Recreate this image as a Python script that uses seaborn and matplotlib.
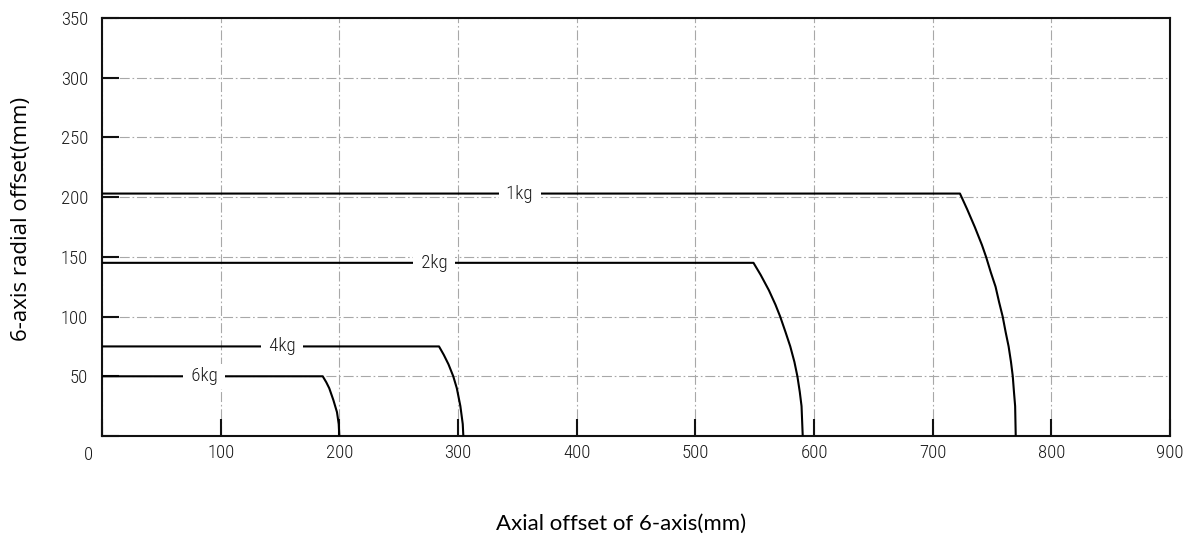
import matplotlib
matplotlib.use("Agg")
import matplotlib.pyplot as plt
from matplotlib.font_manager import FontProperties
import seaborn as sns
import pandas as pd

# payload limit curves (mm)
loads = ["1kg", "2kg", "4kg", "6kg"]
x_1kg = [0, 723, 729, 735.5, 741.5, 745, 749, 753, 756, 759, 761.5, 764, 766, 767.5, 768.5, 769.5, 770]
y_1kg = [203, 203, 190, 175, 160, 150, 137, 125, 112, 100, 87, 75, 62, 50, 37, 25, 0]
x_2kg = [0, 549, 555, 562, 567.5, 571.5, 576, 580, 583.5, 586, 588, 589.5, 590.5]
y_2kg = [145, 145, 135, 122, 110, 100, 87, 75, 62, 50, 37, 25, 0]
x_4kg = [0, 284, 288, 292, 296, 299, 302, 304, 304.5]
y_4kg = [75, 75, 68, 60, 50, 40, 25, 10, 0]
x_6kg = [0, 186, 189, 191.5, 195, 198, 199.5, 200]
y_6kg = [50, 50, 45, 40, 30, 20, 10, 0]

# where the load labels sit on each line
label_x = [352, 280, 152, 86]
label_y = [203, 145, 75, 50]

x_ticks = [0, 100, 200, 300, 400, 500, 600, 700, 800, 900]
y_ticks = [0, 50, 100, 150, 200, 250, 300, 350]
y_tick_labels = ["", "50", "100", "150", "200", "250", "300", "350"]

frames = []
for name, xs, ys in zip(loads, [x_1kg, x_2kg, x_4kg, x_6kg],
                        [y_1kg, y_2kg, y_4kg, y_6kg]):
    frames.append(pd.DataFrame({"x": xs, "y": ys, "load": name}))
df = pd.concat(frames, ignore_index=True)

sns.set_style("ticks")
plt.rcParams["font.family"] = ["Open Sans", "DejaVu Sans"]

# thin narrow face, close to the CAD lettering of the drawing
cad_font = FontProperties(family=["Roboto Condensed", "DejaVu Sans"],
                          weight=300, size=13.5)

fig = plt.figure(figsize=(11.89, 5.39), dpi=100)
ax = fig.add_axes([102 / 1189, 103 / 539, 1068 / 1189, 418 / 539])

sns.lineplot(data=df, x="x", y="y", units="load", estimator=None, sort=False,
             color="black", linewidth=1.5, ax=ax, legend=False, zorder=3)

for name, lx, ly in zip(loads, label_x, label_y):
    ax.text(lx, ly, " " + name + " ", ha="center", va="center", fontproperties=cad_font,
            color="#1a1a1a", zorder=4,
            bbox=dict(facecolor="white", edgecolor="none", pad=2.5))

ax.set_xlim(0, 900)
ax.set_ylim(0, 350)
ax.set_xticks(x_ticks)
ax.set_xticklabels([""] + [str(v) for v in x_ticks[1:]])
ax.set_yticks(y_ticks)
ax.set_yticklabels(y_tick_labels)
for lab in ax.get_xticklabels() + ax.get_yticklabels():
    lab.set_fontproperties(cad_font)
ax.annotate("0", xy=(0, 0), xycoords="data", xytext=(-10, -7),
            textcoords="offset points", ha="center", va="top",
            fontproperties=cad_font, color="#1a1a1a")

ax.grid(True, color="#a8a8a8", linewidth=0.8, linestyle=(0, (9, 2.5, 1.5, 2.5)))
ax.set_axisbelow(True)

ax.tick_params(direction="in", length=12, width=1.5, colors="#111111",
               labelcolor="#1a1a1a")
ax.tick_params(axis="x", pad=6)
ax.tick_params(axis="y", pad=10)
for side in ["left", "right", "top", "bottom"]:
    ax.spines[side].set_visible(True)
    ax.spines[side].set_linewidth(1.5)
    ax.spines[side].set_color("#111111")

ax.set_xlabel("Axial offset of 6-axis(mm)", fontsize=16, family=["Lato", "DejaVu Sans"],
              color="black")
ax.xaxis.set_label_coords((621 - 102) / 1068, (436 - 524) / 418)
ax.set_ylabel("6-axis radial offset(mm)", fontsize=16, family=["Open Sans", "DejaVu Sans"],
              color="black")
ax.yaxis.set_label_coords((22 - 102) / 1068, (436 - 219) / 418)
ax.xaxis.label.set_va("center")
ax.yaxis.label.set_va("center")

fig.savefig("out.png", dpi=100)
